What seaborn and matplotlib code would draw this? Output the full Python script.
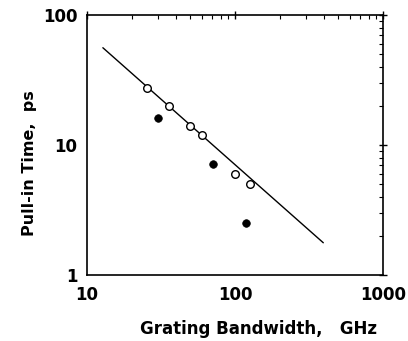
import matplotlib
matplotlib.use("Agg")
import matplotlib.pyplot as plt
import seaborn as sns
import pandas as pd
from matplotlib.ticker import LogLocator, NullFormatter, FixedLocator, FixedFormatter

sns.set_style("white")
plt.rcParams['font.family'] = ['DejaVu Sans']
plt.rcParams['font.weight'] = 'bold'
plt.rcParams['text.color'] = 'black'
plt.rcParams['axes.labelcolor'] = 'black'
plt.rcParams['xtick.color'] = 'black'
plt.rcParams['ytick.color'] = 'black'

# Data
open_bw = [25.4, 36, 50, 60, 100, 126]
open_time = [27.6, 20, 14, 12, 6.0, 5.0]
filled_bw = [30, 71, 119]
filled_time = [16.1, 7.1, 2.5]
fit_bw = [12.8, 395]
fit_time = [56, 1.77]

x_ticks = [10, 100, 1000]
x_labels = ["10", "100", "1000"]
y_ticks = [1, 10, 100]
y_labels = ["1", "10", "100"]

fig = plt.figure(figsize=(4.08, 3.41), dpi=100)
ax = fig.add_axes([87/408, 66/341, 296/408, 260/341])

df_fit = pd.DataFrame({"bw": fit_bw, "t": fit_time})
df_open = pd.DataFrame({"bw": open_bw, "t": open_time})
df_filled = pd.DataFrame({"bw": filled_bw, "t": filled_time})

sns.lineplot(data=df_fit, x="bw", y="t", ax=ax, color="black", lw=1.0)
sns.scatterplot(data=df_open, x="bw", y="t", ax=ax, marker="o", s=30,
                facecolor="white", edgecolor="black", linewidth=1.0, zorder=3)
sns.scatterplot(data=df_filled, x="bw", y="t", ax=ax, marker="o", s=30,
                color="black", edgecolor="black", linewidth=0.5, zorder=3)

ax.set_xscale("log")
ax.set_yscale("log")
ax.set_xlim(10, 1000)
ax.set_ylim(1, 100)

ax.xaxis.set_major_locator(FixedLocator(x_ticks))
ax.xaxis.set_major_formatter(FixedFormatter(x_labels))
ax.yaxis.set_major_locator(FixedLocator(y_ticks))
ax.yaxis.set_major_formatter(FixedFormatter(y_labels))
ax.xaxis.set_minor_locator(LogLocator(base=10, subs=range(2, 10)))
ax.yaxis.set_minor_locator(LogLocator(base=10, subs=range(2, 10)))
ax.xaxis.set_minor_formatter(NullFormatter())
ax.yaxis.set_minor_formatter(NullFormatter())

ax.tick_params(which="major", direction="inout", length=6, width=1.0,
               top=True, right=True, labelsize=12, pad=3, colors="black")
ax.tick_params(which="minor", direction="in", length=3, width=0.8,
               top=True, right=True, colors="black")
ax.tick_params(axis="x", which="major", pad=5)
ax.tick_params(axis="y", which="major", pad=4)
for lab in ax.get_xticklabels() + ax.get_yticklabels():
    lab.set_fontweight("bold")

for sp in ax.spines.values():
    sp.set_color("black")
    sp.set_linewidth(1.2)

ax.set_xlabel("")
ax.set_ylabel("")
fig.text(258/408, 1 - 329/341, "Grating Bandwidth,   GHz", ha="center", va="center",
         fontsize=12, fontweight="bold", color="black")
fig.text(30/408, 1 - 163/341, "Pull-in Time,  ps", ha="center", va="center",
         rotation=90, fontsize=11.5, fontweight="bold", color="black")

fig.savefig("out.png", dpi=100)
